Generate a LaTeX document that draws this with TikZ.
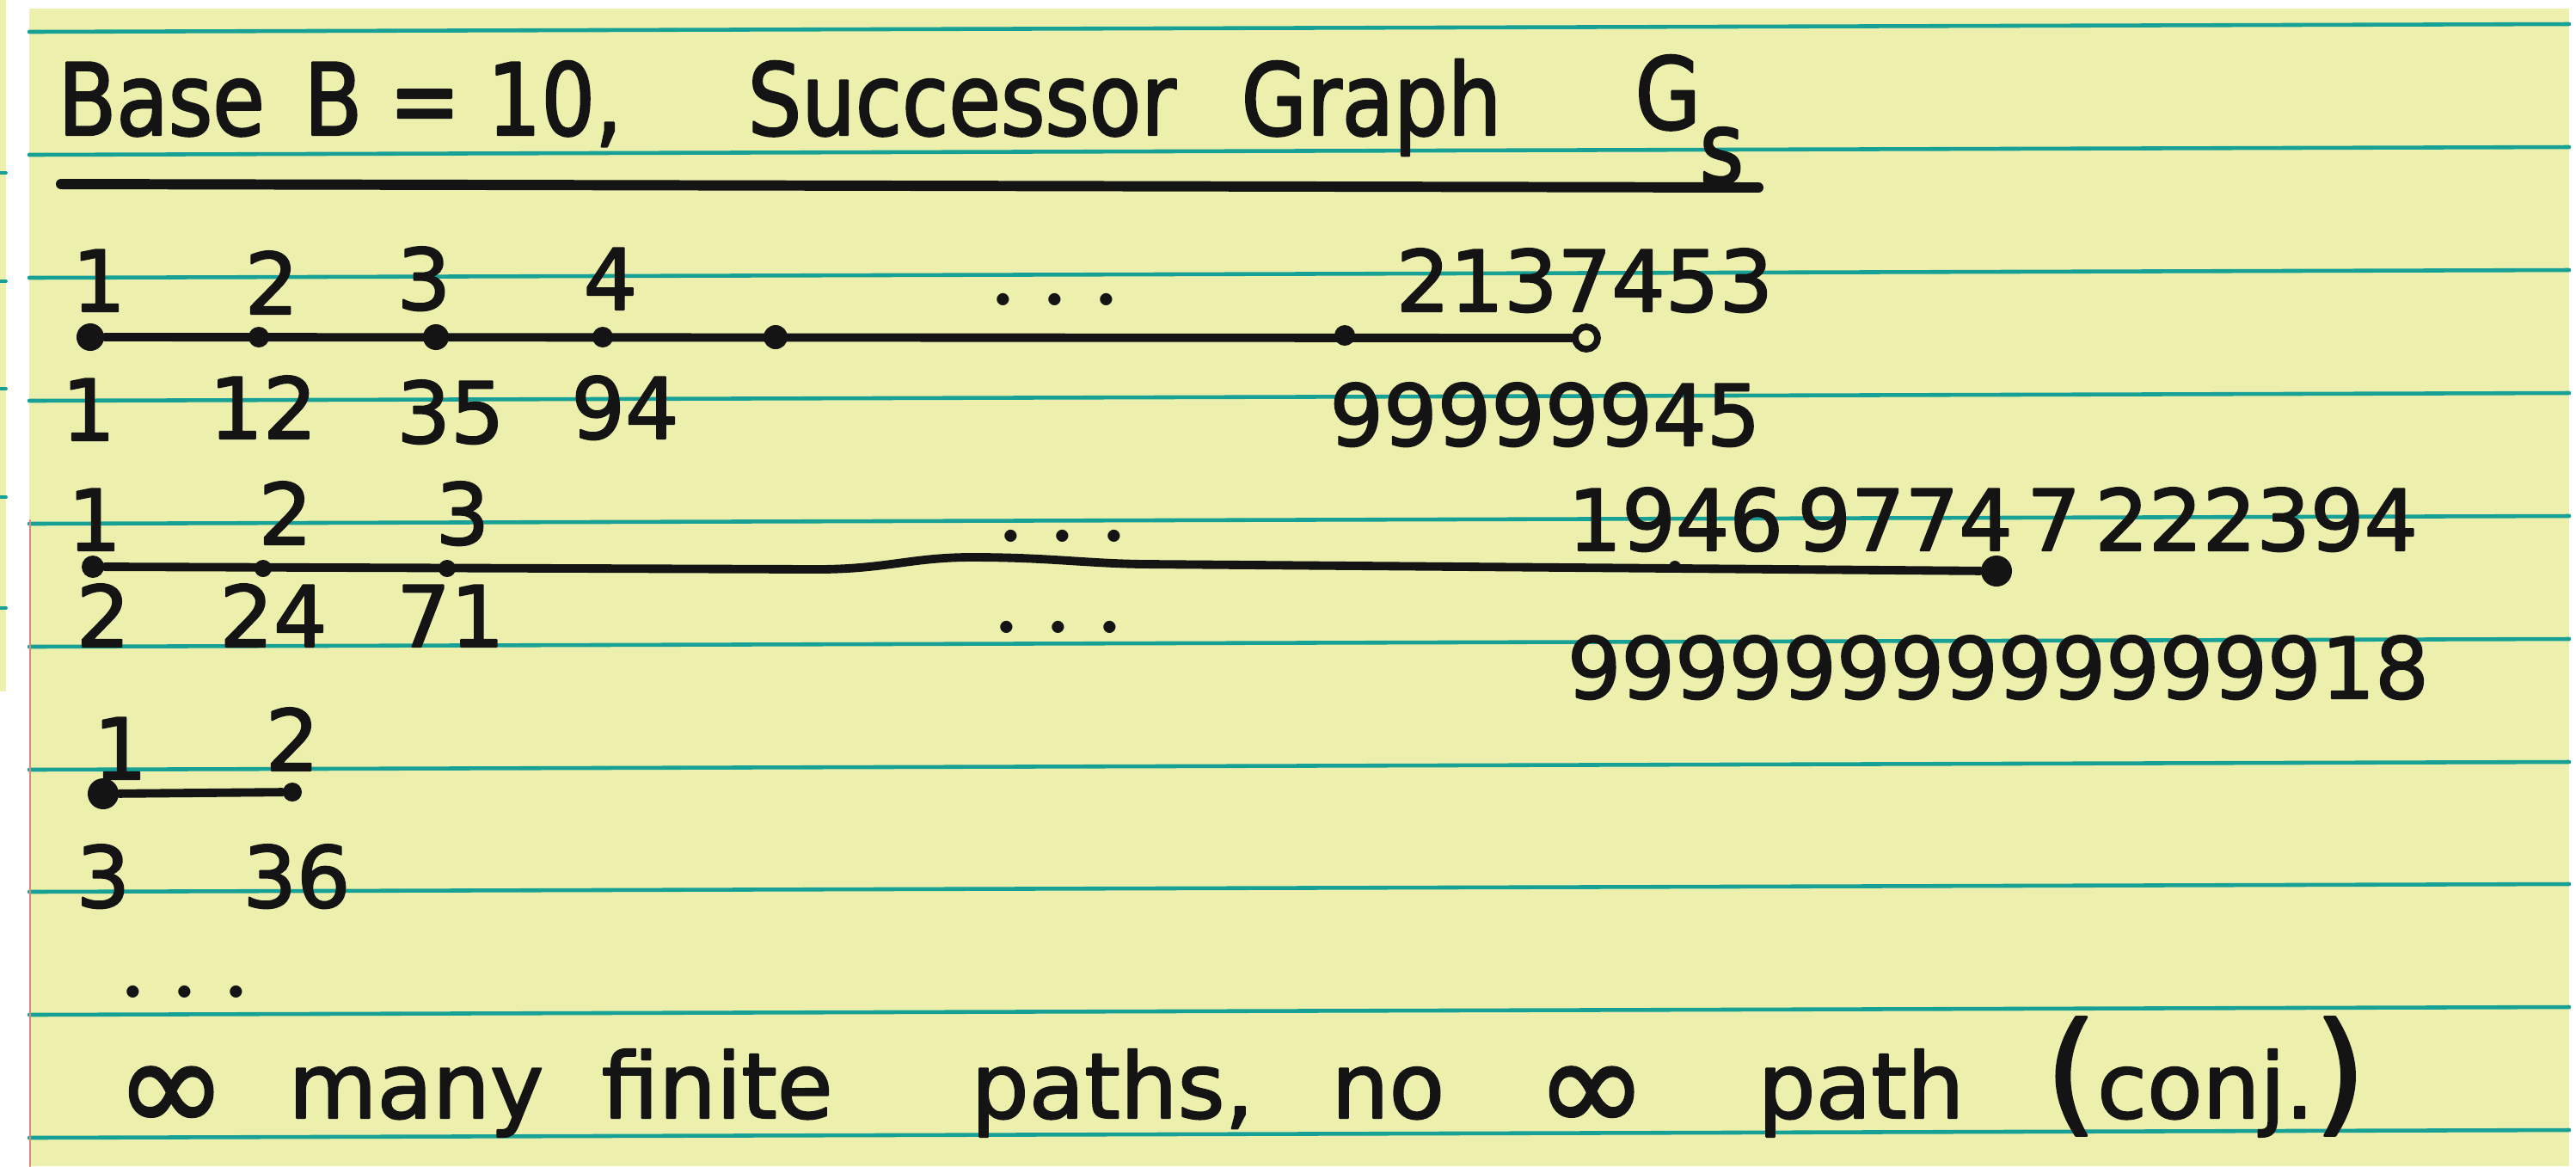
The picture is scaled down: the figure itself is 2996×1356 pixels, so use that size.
\documentclass[tikz,border=0pt]{standalone}
\usepackage{fontspec}
\setmainfont[FakeBold=2]{DejaVu Sans}
\newfontfamily\narrowhand[FakeStretch=0.85,FakeBold=2]{DejaVu Sans}
\newfontfamily\dotfont{Latin Modern Roman}
\usepackage{xcolor}
\usepackage{tikz}
\usetikzlibrary{positioning}
\definecolor{pad}{RGB}{236,240,172}
\definecolor{rulecol}{RGB}{22,160,150}
\definecolor{ink}{RGB}{20,20,20}
\definecolor{margincol}{RGB}{214,140,120}
\begin{document}
\begin{tikzpicture}[x=0.01cm, y=-0.01cm, line cap=round, line join=round,
	vtx/.style={circle, fill=ink, inner sep=0pt, minimum size=#1},
	ring/.style={circle, draw=ink, line width=2.2pt, inner sep=0pt, minimum size=#1},
	edge/.style={draw=ink, line width=2.8pt},
	lbl/.style={text=ink, inner sep=0pt, anchor=base, font=\fontsize{28}{30}\selectfont},
	dots/.style={lbl, font=\dotfont\bfseries\fontsize{28}{28}\selectfont},
	word/.style={text=ink, inner sep=0pt, anchor=base west, font=\fontsize{30}{32}\selectfont},
	title/.style={word, font=\narrowhand\fontsize{33}{36}\selectfont}]
				\useasboundingbox (0,0) rectangle (2996,1356);
				\fill[white] (0,0) rectangle (2996,1356);
				\fill[pad] (0,0) rectangle (7,804);
				\fill[pad] (34,10) rectangle (2988,1356);
				\foreach \y in {201,327,452,578,707} \draw[rulecol, line width=1.1pt] (0,\y)--(7,\y);
				\foreach \y in {28,171,314,457,600,743,886,1028,1171,1314}
					\draw[rulecol, line width=1.3pt] (34,\y+9)--(2988,\y);
				\draw[margincol, line width=0.8pt] (35,605)--(35,1356);
				% title
				\node[title] (base) at (67,157) {Base};
				\node[title] (bten) at (353,157) {B = 10,};
				\node[title] (succ) at (869,157) {Successor};
				\node[title] (graph) at (1443,157) {Graph};
				\node[title] (gee) at (1901,150) {G};
				\node[title] (ess) at (1976,213) {s};
				\draw[ink, line width=3.4pt] (71,214)--(2045,218);
				% first path
				\node[vtx=0.32cm] (a1) at (105,392) {};
				\node[vtx=0.24cm] (a2) at (301,392) {};
				\node[vtx=0.30cm] (a3) at (507,392) {};
				\node[vtx=0.24cm] (a4) at (701,392) {};
				\node[vtx=0.28cm] (a5) at (902,392) {};
				\node[vtx=0.24cm] (a6) at (1564,390) {};
				\node[ring=0.26cm] (a7) at (1845,393) {};
				\draw[edge] (a1)--(a7);
				\node[lbl] (ta1) at (115,362) {1};
				\node[lbl] (ta2) at (316,365) {2};
				\node[lbl] (ta3) at (493,360) {3};
				\node[lbl] (ta4) at (710,360) {4};
				\node[dots] (da) at (1227,355) {.\kern0.3em.\kern0.3em.};
				\node[lbl] (ta7) at (1843,362) {2137453};
				\node[lbl] (ba1) at (103,512) {1};
				\node[lbl] (ba2) at (306,510) {12};
				\node[lbl] (ba3) at (524,515) {35};
				\node[lbl] (ba4) at (727,510) {94};
				\node[lbl] (ba7) at (1797,518) {99999945};
				% second path
				\node[vtx=0.26cm] (b1) at (108,659) {};
				\node[vtx=0.20cm] (b2) at (306,661) {};
				\node[vtx=0.20cm] (b3) at (520,661) {};
				\node[vtx=0.14cm] (b4) at (1948,659) {};
				\node[vtx=0.36cm] (b5) at (2322,664) {};
				\draw[edge] (b1)--(950,662) .. controls (1030,662) and (1060,648) .. (1130,648)
					.. controls (1220,648) and (1260,655) .. (1330,656)--(b5);
				\node[lbl] (tb1) at (110,640) {1};
				\node[lbl] (tb2) at (332,633) {2};
				\node[lbl] (tb3) at (538,633) {3};
				\node[dots] (db) at (1236,630) {.\kern0.3em.\kern0.3em.};
				\node[lbl] (tb5) at (2318,640) {1946\,9774\,7\,222394};
				\node[lbl] (bb1) at (120,752) {2};
				\node[lbl] (bb2) at (318,752) {24};
				\node[lbl] (bb3) at (524,752) {71};
				\node[dots] (dbb) at (1231,736) {.\kern0.3em.\kern0.3em.};
				\node[lbl] (bb5) at (2324,812) {9999999999999918};
				% third path
				\node[vtx=0.36cm] (c1) at (120,923) {};
				\node[vtx=0.22cm] (c2) at (340,921) {};
				\draw[edge] (c1)--(c2);
				\node[lbl] (tc1) at (140,906) {1};
				\node[lbl] (tc2) at (340,896) {2};
				\node[lbl] (bc1) at (120,1055) {3};
				\node[lbl] (bc2) at (345,1055) {36};
				\node[dots] (dc) at (215,1160) {.\kern0.3em.\kern0.3em.};
				% conclusion
				\node[word, font=\fontsize{44}{44}\selectfont] (inf1) at (134,1316) {∞};
				\node[word] (many) at (335,1300) {many};
				\node[word] (fin) at (699,1300) {finite};
				\node[word] (paths) at (1129,1300) {paths,};
				\node[word] (no) at (1548,1300) {no};
				\node[word, font=\fontsize{44}{44}\selectfont] (inf2) at (1786,1316) {∞};
				\node[word] (path) at (2044,1300) {path};
				\node[word] (conj) at (2378,1300) {{\fontsize{44}{44}\selectfont(}conj.{\fontsize{44}{44}\selectfont)}};
			\end{tikzpicture}
\end{document}
